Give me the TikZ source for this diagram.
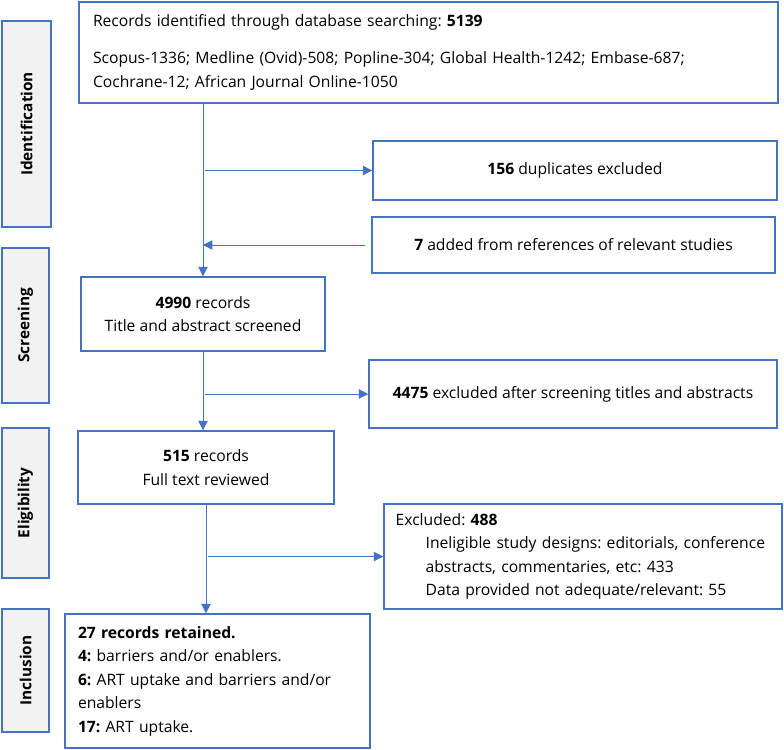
\documentclass[tikz,border=0pt]{standalone}
\usepackage{fontspec}
\setmainfont{Open Sans}
\usetikzlibrary{arrows.meta}
\definecolor{boxblue}{HTML}{4472C4}
\definecolor{phasegray}{HTML}{F2F2F2}
\frenchspacing

\begin{document}
\begin{tikzpicture}[x=0.75pt,y=-0.75pt]
  \tikzstyle{every node}+=[inner sep=0pt, font=\fontsize{11.75}{17.6}\selectfont]
  \tikzstyle{box}=[draw=boxblue, line width=1.1pt, fill=white]
  \tikzstyle{phase}=[draw=boxblue, line width=1.1pt, fill=phasegray, rotate=90, font=\bfseries\fontsize{11.5}{12}\selectfont]
  \tikzstyle{arr}=[draw=boxblue, line width=0.75pt, -{Triangle[length=7pt,width=7pt]}]
  \useasboundingbox (0,0) rectangle (784,749);
  % phases
  \node[phase, minimum width=154.5pt, minimum height=36.75pt] (identification) at (26.5,124) {Identification};
  \node[phase, minimum width=116.25pt, minimum height=35.25pt] (screening) at (25.5,325.5) {Screening};
  \node[phase, minimum width=112.5pt, minimum height=35.25pt] (eligibility) at (25.5,503) {Eligibility};
  \node[phase, minimum width=92.25pt, minimum height=35.25pt] (inclusion) at (25.5,670.5) {Inclusion};
  % boxes
  \node[box, minimum width=524.25pt, minimum height=75.75pt, text width=503.25pt, align=left] (records) at (428.5,52.5)
    {Records identified through database searching: \textbf{5139}\\[10pt]
     Scopus-1336; Medline (Ovid)-508; Popline-304; Global Health-1242; Embase-687;\\
     Cochrane-12; African Journal Online-1050};
  \node[box, minimum width=303pt, minimum height=44.25pt] (dup) at (575,170.5) {\textbf{156} duplicates excluded};
  \node[box, minimum width=302.25pt, minimum height=42pt] (added) at (573.5,245) {\textbf{7} added from references of relevant studies};
  \node[box, minimum width=183pt, minimum height=55.5pt, align=center] (screen) at (203,314) {\textbf{4990} records\\Title and abstract screened};
  \node[box, minimum width=306pt, minimum height=51pt] (excltitle) at (573,394) {\textbf{4475} excluded after screening titles and abstracts};
  \node[box, minimum width=192pt, minimum height=54.75pt, align=center] (fulltext) at (206,467.5) {\textbf{515} records\\Full text reviewed};
  \node[box, minimum width=298.5pt, minimum height=78.75pt, text width=281pt, align=left] (exclfull) at (583,556.5)
    {Excluded: \textbf{488}\\
     \hspace*{22.5pt}Ineligible study designs: editorials, conference\\
     \hspace*{22.5pt}abstracts, commentaries, etc: 433\\
     \hspace*{22.5pt}Data provided not adequate/relevant: 55};
  \node[box, minimum width=228.75pt, minimum height=100.5pt, text width=209.25pt, align=left] (retained) at (217.5,681)
    {\textbf{27 records retained.}\\
     \textbf{4:} barriers and/or enablers.\\
     \textbf{6:} ART uptake and barriers and/or\\
     enablers\\
     \textbf{17:} ART uptake.};
  % connectors
  \draw[arr] (records.south -| screen.north) -- (screen.north);
  \draw[arr, shorten <=1.5pt] (screen.north |- dup.west) -- (dup.west);
  \draw[arr, shorten <=4.5pt] (added.west) -- (screen.north |- added.west);
  \draw[arr] (screen.south) -- (screen.south |- fulltext.north);
  \draw[arr, shorten <=1.5pt] (screen.south |- excltitle.west) -- (excltitle.west);
  \draw[arr] (fulltext.south) -- (fulltext.south |- retained.north);
  \draw[arr, shorten <=1.5pt] (fulltext.south |- exclfull.west) -- (exclfull.west);
\end{tikzpicture}
\end{document}
